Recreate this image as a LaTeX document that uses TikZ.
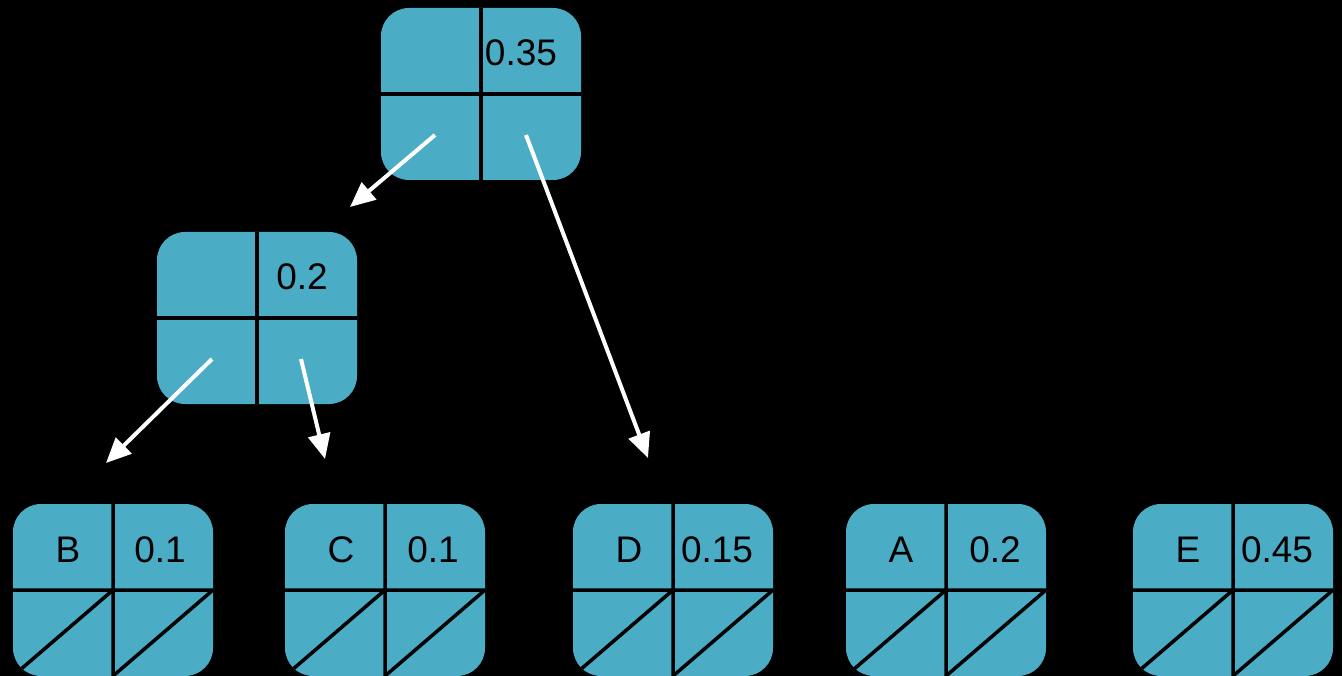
\documentclass[tikz,border=0pt]{standalone}
\usepackage{fontspec}
\setmainfont{Liberation Sans}
\usetikzlibrary{arrows.meta}

\definecolor{cellteal}{RGB}{75,172,198}

\tikzset{
  divider/.style={line width=3.5pt,black},
  cellbox/.style={fill=cellteal,rounded corners=28pt,minimum width=200pt,minimum height=172pt,inner sep=0pt,
    path picture={\draw[divider] (path picture bounding box.north) -- (path picture bounding box.south)
      (path picture bounding box.west) -- (path picture bounding box.east);}},
  leafbox/.style={fill=cellteal,rounded corners=28pt,minimum width=200pt,minimum height=172pt,inner sep=0pt,
    path picture={\draw[divider] (path picture bounding box.north) -- (path picture bounding box.south)
      (path picture bounding box.west) -- (path picture bounding box.east)
      (path picture bounding box.south west) -- (path picture bounding box.center)
      (path picture bounding box.south) -- (path picture bounding box.east);}},
  lbl/.style={font=\fontsize{37}{44}\selectfont,inner sep=0pt},
  link/.style={white,line width=4pt,-{Triangle[length=25pt,width=22pt]}}
}

\begin{document}
\begin{tikzpicture}[x=1pt,y=-1pt]
  \fill[black] (0,0) rectangle (1342,676);
  \useasboundingbox (0,0) rectangle (1342,676);

  % inner nodes
  \node[cellbox] (root) at (481,94) {};
  \node[lbl] (rootw) at (521,53) {0.35};
  \node[cellbox] (mid) at (257,318) {};
  \node[lbl] (midw) at (302,277) {0.2};

  % leaves
  \node[leafbox] (b) at (113,590) {};
  \node[leafbox] (c) at (385,590) {};
  \node[leafbox] (d) at (673,590) {};
  \node[leafbox] (a) at (946,590) {};
  \node[leafbox] (e) at (1233,590) {};
  \node[lbl] (bs) at (68,550) {B};    \node[lbl] (bw) at (160,550) {0.1};
  \node[lbl] (cs) at (341,550) {C};   \node[lbl] (cw) at (433,550) {0.1};
  \node[lbl] (ds) at (629,550) {D};   \node[lbl] (dw) at (717,550) {0.15};
  \node[lbl] (as) at (901,550) {A};   \node[lbl] (aw) at (995,550) {0.2};
  \node[lbl] (es) at (1188,550) {E};  \node[lbl] (ew) at (1277,550) {0.45};

  % pointers
  \coordinate (rootl) at (435,135);
  \coordinate (rootr) at (526,135);
  \coordinate (midl) at (212,359);
  \coordinate (midr) at (301,359);
  \coordinate (midin) at (350,207);
  \coordinate (bin) at (106,463);
  \coordinate (cin) at (325,459);
  \coordinate (din) at (648,458);
  \draw[link] (rootl) -- (midin);
  \draw[link] (rootr) -- (din);
  \draw[link] (midl) -- (bin);
  \draw[link] (midr) -- (cin);
\end{tikzpicture}
\end{document}
